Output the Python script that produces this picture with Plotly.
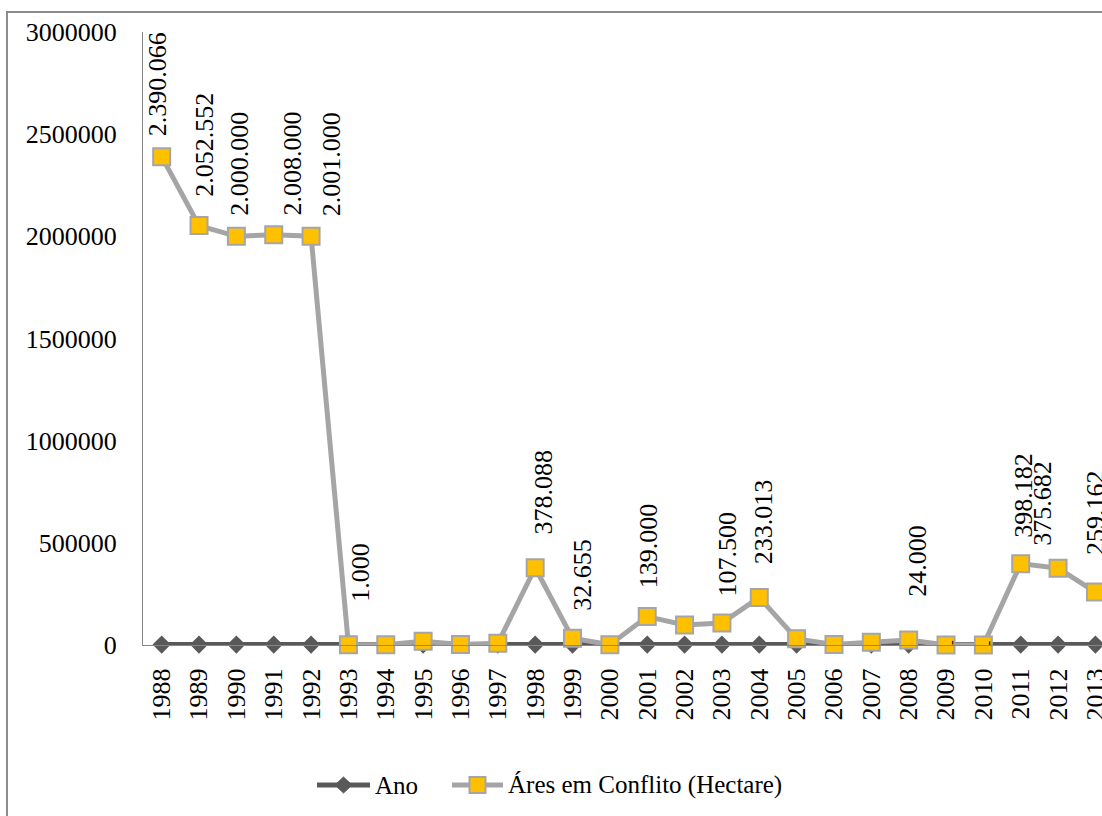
import plotly.graph_objects as go

# Anos da série
anos = [1988, 1989, 1990, 1991, 1992, 1993, 1994, 1995, 1996, 1997, 1998, 1999, 2000,
        2001, 2002, 2003, 2004, 2005, 2006, 2007, 2008, 2009, 2010, 2011, 2012, 2013]

# Área em conflito (hectares) por ano
areas = [2390066, 2052552, 2000000, 2008000, 2001000, 1000, 1500, 18000, 2000, 8000,
         378088, 32655, 1500, 139000, 98000, 107500, 233013, 30000, 3000, 14000,
         24000, 0, 0, 398182, 375682, 259162]

# Anos que recebem rótulo de valor
anos_rotulados = [1988, 1989, 1990, 1991, 1992, 1993, 1998, 1999, 2001, 2003, 2004,
                  2008, 2009, 2010, 2011, 2012, 2013]

# Deslocamento de cada rótulo (px): horizontal e distância acima do marcador
label_offsets = {
    1988: (-4, 19), 1989: (6, 28), 1990: (3, 20), 1991: (19, 18), 1992: (20, 19),
    1993: (12, 42), 1998: (8, 32), 1999: (10, 26), 2001: (1, 27), 2003: (6, 26),
    2004: (5, 32), 2008: (8, 42), 2011: (2, 25), 2012: (-15, 21), 2013: (0, 36),
}

FONT = "Liberation Serif"
NOME_ANO = "Ano"
NOME_AREA = "Áres em Conflito (Hectare)"
COR_ANO = "#595959"
COR_LINHA_AREA = "#A5A5A5"
COR_MARCA_AREA = "#FFC000"
cats = [str(a) for a in anos]


def fmt(v):
    if v == 0:
        return "-"
    return f"{v:,}".replace(",", ".")


fig = go.Figure()

fig.add_trace(go.Scatter(
    x=cats, y=anos, name=NOME_ANO, mode="lines+markers",
    line=dict(color=COR_ANO, width=5),
    marker=dict(symbol="diamond", size=14, color=COR_ANO),
    cliponaxis=False, showlegend=False,
))

fig.add_trace(go.Scatter(
    x=cats, y=areas, name=NOME_AREA, mode="lines+markers",
    line=dict(color=COR_LINHA_AREA, width=5),
    marker=dict(symbol="square", size=17, color=COR_MARCA_AREA,
                line=dict(color=COR_LINHA_AREA, width=2)),
    cliponaxis=False, showlegend=False,
))

annotations = []
for i, (ano, val) in enumerate(zip(anos, areas)):
    if ano not in anos_rotulados:
        continue
    if val == 0:
        annotations.append(dict(
            x=i, y=val, xref="x", yref="y", text=fmt(val), textangle=-90,
            showarrow=False, xanchor="center", yanchor="middle", xshift=5, yshift=2,
            font=dict(family=FONT, size=14, color="#000000"),
        ))
        continue
    dx, gap = label_offsets[ano]
    annotations.append(dict(
        x=i, y=val, xref="x", yref="y", text=fmt(val), textangle=-90,
        showarrow=False, xanchor="center", yanchor="bottom", xshift=dx, yshift=gap,
        borderpad=0, font=dict(family=FONT, size=26, color="#000000"),
    ))

plot_left, plot_w, plot_top, plot_h = 143, 959, 32, 613
band = 37.35
x_end = -0.5 + plot_w / band


def px_x(p):
    return (p - plot_left) / plot_w


def px_y(p):
    return (plot_top + plot_h - p) / plot_h


# Moldura externa do gráfico
shapes = [dict(
    type="rect", xref="paper", yref="paper",
    x0=px_x(7), x1=1.2, y0=-0.5, y1=px_y(12),
    line=dict(color="#8C8C8C", width=2), fillcolor="rgba(0,0,0,0)", layer="below",
)]

# Legenda desenhada na base do gráfico
leg_y = px_y(785)
shapes += [
    dict(type="line", xref="paper", yref="paper", x0=px_x(317), x1=px_x(370),
         y0=leg_y, y1=leg_y, line=dict(color=COR_ANO, width=5)),
    dict(type="path", xref="paper", yref="paper",
         path=f"M {px_x(335)} {leg_y} L {px_x(343.5)} {px_y(777)} "
              f"L {px_x(352)} {leg_y} L {px_x(343.5)} {px_y(793)} Z",
         fillcolor=COR_ANO, line=dict(color=COR_ANO, width=1)),
    dict(type="line", xref="paper", yref="paper", x0=px_x(452), x1=px_x(503),
         y0=leg_y, y1=leg_y, line=dict(color=COR_LINHA_AREA, width=5)),
    dict(type="rect", xref="paper", yref="paper", x0=px_x(469.5), x1=px_x(485.5),
         y0=px_y(793), y1=px_y(777),
         fillcolor=COR_MARCA_AREA, line=dict(color=COR_LINHA_AREA, width=2)),
]
annotations += [
    dict(x=px_x(374), y=leg_y, xref="paper", yref="paper", text=NOME_ANO,
         showarrow=False, xanchor="left", yanchor="middle", borderpad=0,
         font=dict(family=FONT, size=25, color="#000000")),
    dict(x=px_x(507), y=leg_y, xref="paper", yref="paper", text=NOME_AREA,
         showarrow=False, xanchor="left", yanchor="middle", borderpad=0,
         font=dict(family=FONT, size=25, color="#000000")),
]

fig.update_layout(
    width=1102, height=816,
    margin=dict(l=plot_left, r=0, t=plot_top, b=816 - plot_top - plot_h, pad=0,
                autoexpand=False),
    paper_bgcolor="white", plot_bgcolor="white",
    font=dict(family=FONT, size=26, color="#000000"),
    showlegend=False,
    annotations=annotations,
    shapes=shapes,
)

fig.update_xaxes(
    type="category", range=[-0.5, x_end], showgrid=False, zeroline=False,
    showline=True, linecolor="#868686", linewidth=1, ticks="",
    tickangle=-90, ticklabelstandoff=12, automargin=False,
    tickfont=dict(family=FONT, size=26, color="#000000"),
)

fig.update_yaxes(
    range=[0, 3000000], tickmode="array",
    tickvals=[0, 500000, 1000000, 1500000, 2000000, 2500000, 3000000],
    ticktext=["0", "500000", "1000000", "1500000", "2000000", "2500000", "3000000"],
    showgrid=False, zeroline=False, showline=True, linecolor="#868686", linewidth=1,
    ticks="", ticklabelstandoff=20, automargin=False,
    tickfont=dict(family=FONT, size=26, color="#000000"),
)

fig.write_html("out.html")
